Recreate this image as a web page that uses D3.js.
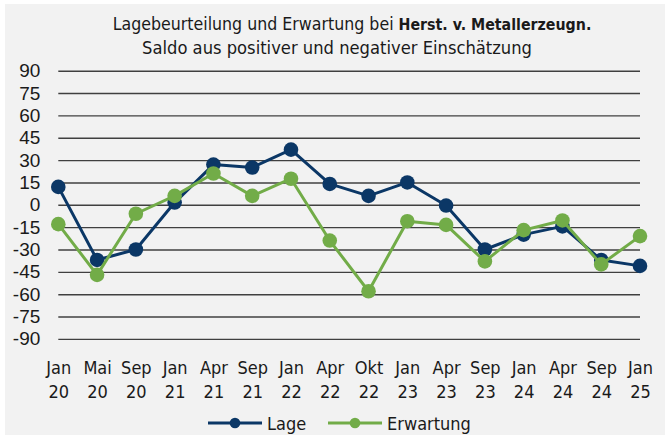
<!DOCTYPE html>
<html><head><meta charset="utf-8">
<script src="https://cdn.jsdelivr.net/npm/d3@7"></script>
<style>
html,body{margin:0;padding:0;background:#fff;}
.cond{font-family:'DejaVu Sans Condensed','DejaVu Sans',sans-serif;font-stretch:condensed;}
</style></head>
<body>
<svg id="c" width="669" height="441"></svg>
<script>
const months = ["Jan","Mai","Sep","Jan","Apr","Sep","Jan","Apr","Okt","Jan","Apr","Sep","Jan","Apr","Sep","Jan"];
const years  = ["20","20","20","21","21","21","22","22","22","23","23","23","24","24","24","25"];
const lage      = [12,-37,-30,1.5,27,25,37,14,6,15,-0.5,-30,-20,-14.5,-37,-41];
const erwartung = [-13,-47,-6,6,21,6,17.5,-24,-58,-11,-13.5,-38,-17,-10.5,-40,-21];
const yTicks = [90,75,60,45,30,15,0,-15,-30,-45,-60,-75,-90];
const seriesNames = ["Lage","Erwartung"];
const colors = ["#0b3766","#72ac48"];

const svg = d3.select("#c");
svg.append("rect").attr("x",5).attr("y",4).attr("width",660).attr("height",431).attr("fill","#f2f2f2");

const cats = months.map((m,i)=>m+" "+years[i]+"#"+i);
const x = d3.scalePoint().domain(cats).range([58.3,640]);
const y = d3.scaleLinear().domain([-90,90]).range([338.9,70.7]);

// title
const t = svg.append("text").attr("class","cond").attr("x",352).attr("y",30)
  .attr("text-anchor","middle").attr("font-size",17.6).attr("fill","#1a1a1a");
t.append("tspan").text("Lagebeurteilung und Erwartung bei ");
t.append("tspan").attr("font-weight","bold").attr("font-size",15.8).text("Herst. v. Metallerzeugn.");
svg.append("text").attr("class","cond").attr("x",337).attr("y",53.5)
  .attr("text-anchor","middle").attr("font-size",18.2).attr("fill","#1a1a1a")
  .text("Saldo aus positiver und negativer Einschätzung");

// y axis gridlines + labels
const yAxis = d3.axisLeft(y).tickValues(yTicks).tickSize(-(640-58.3)).tickPadding(18).tickFormat(d=>d);
const ga = svg.append("g").attr("transform","translate(58.3,0)").call(yAxis);
ga.select(".domain").remove();
ga.selectAll(".tick line").attr("stroke","#404040").attr("stroke-width",1.4);
ga.selectAll(".tick text").attr("font-family","'Liberation Sans',Arial,sans-serif")
  .attr("font-size",19).attr("fill","#1a1a1a").attr("x",-18);

// x labels
const xAxis = d3.axisBottom(x).tickSize(0).tickFormat(()=>"");
const gx = svg.append("g").attr("transform","translate(0,338.9)").call(xAxis);
gx.select(".domain").remove();
gx.selectAll(".tick").each(function(d,i){
  const g = d3.select(this);
  g.append("text").attr("class","cond").attr("y",35).attr("text-anchor","middle")
    .attr("font-size",18).attr("fill","#1a1a1a").text(months[i]);
  g.append("text").attr("class","cond").attr("y",59).attr("text-anchor","middle")
    .attr("font-size",18).attr("fill","#1a1a1a").text(years[i]);
});

// series
[lage, erwartung].forEach((vals,si)=>{
  const line = d3.line().x((d,i)=>x(cats[i])).y(d=>y(d));
  svg.append("path").datum(vals).attr("d",line).attr("fill","none")
    .attr("stroke",colors[si]).attr("stroke-width",3).attr("stroke-linejoin","round");
  svg.append("g").selectAll("circle").data(vals).join("circle")
    .attr("cx",(d,i)=>x(cats[i])).attr("cy",d=>y(d)).attr("r",7.3).attr("fill",colors[si]);
});

// legend
const leg = [{x0:208,name:seriesNames[0],c:colors[0]},{x0:328,name:seriesNames[1],c:colors[1]}];
leg.forEach(l=>{
  svg.append("line").attr("x1",l.x0).attr("x2",l.x0+54).attr("y1",423).attr("y2",423)
    .attr("stroke",l.c).attr("stroke-width",3);
  svg.append("circle").attr("cx",l.x0+27).attr("cy",423).attr("r",5.3).attr("fill",l.c);
  svg.append("text").attr("class","cond").attr("x",l.x0+59).attr("y",429.5)
    .attr("font-size",18).attr("fill","#1a1a1a").text(l.name);
});
</script>
</body></html>
